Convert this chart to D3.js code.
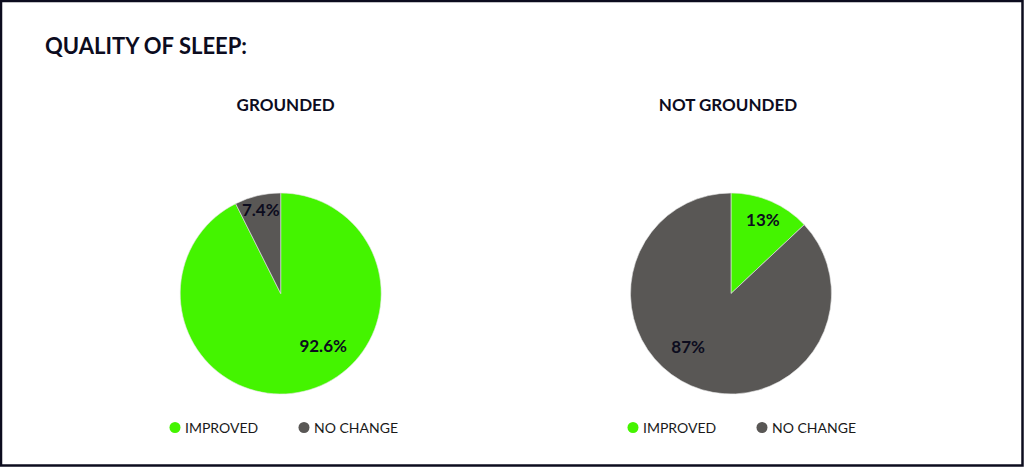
<!DOCTYPE html>
<html>
<head>
<meta charset="utf-8">
<script src="https://cdn.jsdelivr.net/npm/d3@7"></script>
<style>
  html, body { margin: 0; padding: 0; background: #fff; }
  svg { display: block; }
  text { font-family: Lato, "Open Sans", sans-serif; }
</style>
</head>
<body>
<div id="chart"></div>
<script>
// Chart data
var chartTitle = 'QUALITY OF SLEEP:';
var categories = ['IMPROVED', 'NO CHANGE'];
var groups = ['GROUNDED', 'NOT GROUNDED'];
var groundedValues = [92.6, 7.4];
var notGroundedValues = [13, 87];
var valueLabels = [['92.6%', '7.4%'], ['13%', '87%']];

var colors = ['#44f400', '#595755'];
var ink = '#0c0c1e';

var width = 1024, height = 467;
var svg = d3.select('#chart')
    .append('svg')
    .attr('width', width)
    .attr('height', height);

// Frame
svg.append('rect')
    .attr('x', 1).attr('y', 1)
    .attr('width', width - 2.5).attr('height', height - 2.5)
    .attr('fill', '#fff')
    .attr('stroke', ink)
    .attr('stroke-width', 2.5);

svg.append('text')
    .attr('x', 45)
    .attr('y', 54)
    .attr('fill', ink)
    .attr('font-size', 22)
    .attr('font-weight', 700)
    .text(chartTitle);

var radius = 100.5;
var pie = d3.pie().sort(null).value(d => d);
var arc = d3.arc().innerRadius(0).outerRadius(radius);

// Label placement for each panel: [slice index] -> radius factor, angle shift (rad)
var labelLayout = [
    [{ r: 0.67, shift: -0.45 }, { r: 0.86, shift: 0 }],
    [{ r: 0.80, shift: 0 }, { r: 0.68, shift: 0.27 }]
];

function drawPanel(values, idx, cx, legendX) {
    var g = svg.append('g');

    g.append('text')
        .attr('x', cx + (idx === 0 ? 5 : -3))
        .attr('y', 111)
        .attr('text-anchor', 'middle')
        .attr('fill', ink)
        .attr('font-size', 17)
        .attr('font-weight', 700)
        .text(groups[idx]);

    var pieG = g.append('g')
        .attr('transform', `translate(${cx},293.5)`);

    var arcs = pie(values);

    pieG.selectAll('path')
        .data(arcs)
        .enter()
        .append('path')
        .attr('d', arc)
        .attr('fill', (d, i) => colors[i])
        .attr('stroke', '#e8e8e8')
        .attr('stroke-width', 0.6);

    pieG.selectAll('.slice-label')
        .data(arcs)
        .enter()
        .append('text')
        .attr('class', 'slice-label')
        .attr('transform', function(d, i) {
            var lay = labelLayout[idx][i];
            var a = (d.startAngle + d.endAngle) / 2 + lay.shift;
            var r = radius * lay.r;
            return `translate(${r * Math.sin(a)},${-r * Math.cos(a)})`;
        })
        .attr('text-anchor', 'middle')
        .attr('dy', '0.36em')
        .attr('fill', ink)
        .attr('font-size', 17)
        .attr('font-weight', 700)
        .text((d, i) => valueLabels[idx][i]);

    // Legend
    var legend = g.selectAll('.legend-item')
        .data(categories)
        .enter()
        .append('g')
        .attr('class', 'legend-item')
        .attr('transform', (d, i) => `translate(${legendX + i * 129},427.5)`);

    legend.append('circle')
        .attr('r', 5.5)
        .attr('fill', (d, i) => colors[i]);

    legend.append('text')
        .attr('x', 10)
        .attr('dy', '0.36em')
        .attr('fill', '#1a1a1a')
        .attr('font-size', 14)
        .text(d => d);
}

drawPanel(groundedValues, 0, 280.7, 175);
drawPanel(notGroundedValues, 1, 731, 633);
</script>
</body>
</html>
